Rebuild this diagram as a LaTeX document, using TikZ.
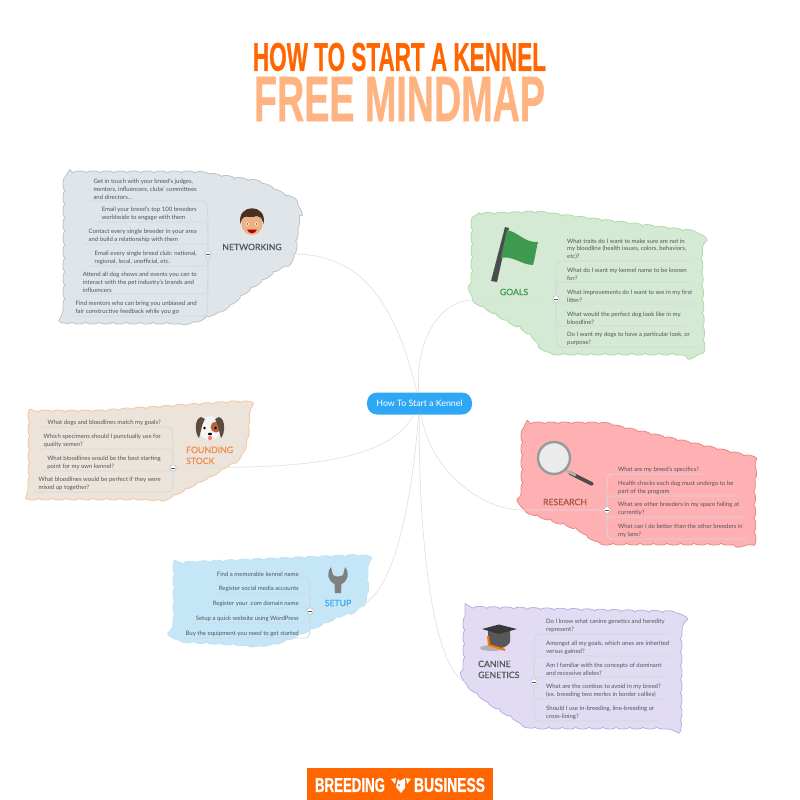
\documentclass[tikz,border=0pt]{standalone}
\usepackage{fontspec}
\usepackage{graphicx}
\setmainfont{Lato}
\newfontfamily\titlefont[FakeBold=1]{Liberation Sans Bold}
\newfontfamily\headfont[FakeBold=0.5]{Lato}
\usetikzlibrary{decorations.pathmorphing,calc}
\definecolor{txt}{HTML}{50555C}
\definecolor{branch}{HTML}{D3D8DC}
\definecolor{linkc}{HTML}{DEE2E5}
\definecolor{nf}{HTML}{DFE5E9}\definecolor{nd}{HTML}{BAC4CA}
\definecolor{gf}{HTML}{D5EAD4}\definecolor{gd}{HTML}{ABDCA6}
\definecolor{ff}{HTML}{ECE3DB}\definecolor{fd}{HTML}{F3C7A0}
\definecolor{rf}{HTML}{FFB0B3}\definecolor{rd}{HTML}{E88A80}
\definecolor{sf}{HTML}{C4E6F7}\definecolor{sd}{HTML}{BFE3F5}
\definecolor{cf}{HTML}{E1DCF3}\definecolor{cd}{HTML}{BDADE2}
\definecolor{orangeA}{HTML}{FF6600}
\definecolor{orangeB}{HTML}{FFB380}
\definecolor{skyblue}{HTML}{2EA8F5}
\definecolor{hairc}{HTML}{4A2F20}
\definecolor{skinc}{HTML}{EEB184}
\definecolor{flagc}{HTML}{3F9A50}
\definecolor{patchc}{HTML}{B5653A}
\definecolor{earc}{HTML}{5B4A3F}
\tikzset{
  cloud blob/.style={line width=.8pt,line join=round},
  topic/.style={font=\fontsize{6}{7.6}\selectfont,text=txt,inner xsep=5pt,inner ysep=1.6pt,align=left},
  branchline/.style={draw=branch,line width=.8pt},
  link/.style={draw=linkc,line width=.7pt},
  hubdot/.style={circle,fill=white,draw=branch!80!black,line width=.4pt,minimum size=6.6pt,inner sep=0pt,
     path picture={\draw[line width=.7pt,txt] ([xshift=-1.6pt]path picture bounding box.center)--([xshift=1.6pt]path picture bounding box.center);}},
  heading/.style={font=\fontsize{8.7}{11}\headfont,inner sep=0pt,align=left},
}
\newcommand{\blob}[3]{\path[cloud blob,draw=#1,fill=#2] decorate[decoration={bumps,segment length=27pt,amplitude=2pt}] {[rounded corners=8pt] #3};}
\newcommand{\topicL}[5]{%
  \node[topic,anchor=south east] (#2) at (#3,#4) {#5};
  \draw[branchline] (#1) .. controls (#1 |- #2.south east) .. (#2.south east) -- (#2.south west);}
\newcommand{\topicR}[5]{%
  \node[topic,anchor=south west] (#2) at (#3,#4) {#5};
  \draw[branchline] (#1) .. controls (#1 |- #2.south west) .. (#2.south west) -- (#2.south east);}
\begin{document}
\begin{tikzpicture}[x=1pt,y=-1pt]
\useasboundingbox (0,0) rectangle (800,800);
% blobs
\blob{nd}{nf}{(65,173)--(197,173)--(257,182)--(296,201)--(298,215)--(294,257)--(247,290)--(227,307)--(193,322)--(65,322)--cycle}
\blob{gd}{gf}{(473,215)--(537,213)--(700,233)--(703,353)--(550,353)--(530,333)--(473,300)--cycle}
\blob{fd}{ff}{(30,412)--(97,412)--(247,402)--(248,427)--(243,453)--(220,470)--(167,498)--(30,498)--cycle}
\blob{rd}{rf}{(523,424)--(603,424)--(753,458)--(754,543)--(603,543)--(577,528)--(523,510)--cycle}
\blob{sd}{sf}{(175,564)--(365,556)--(367,590)--(362,605)--(285,640)--(262,645)--(175,640)--cycle}
\blob{cd}{cf}{(465,608)--(680,613)--(680,727)--(530,727)--(493,705)--(465,683)--cycle}
% title
\node[inner sep=0pt] (title1) at (399.5,57) {\textcolor{orangeA}{\resizebox{293pt}{28pt}{\titlefont HOW TO START A KENNEL}}};
\node[inner sep=0pt] (title2) at (399.5,99) {\textcolor{orangeB}{\resizebox{291pt}{44pt}{\titlefont FREE MINDMAP}}};
% centre and hubs
\node[fill=skyblue,rounded corners=10pt,minimum width=105pt,minimum height=22pt,inner sep=0pt,text=white,font=\fontsize{8.8}{10}\selectfont] (center) at (419.5,403.5) {How To Start a Kennel};
\node[hubdot] (hN) at (208,254) {};
\node[hubdot] (hG) at (556,299) {};
\node[hubdot] (hF) at (173,468) {};
\node[hubdot] (hR) at (607,510) {};
\node[hubdot] (hS) at (310,611) {};
\node[hubdot] (hC) at (534,682) {};
% links
\draw[link] (center) .. controls (395,300) and (360,255) .. (295,254) -- (hN);
\draw[link] (center) .. controls (415,340) and (440,300) .. (473,300) -- (hG);
\draw[link] (center) .. controls (395,450) and (340,465) .. (245,467) -- (hF);
\draw[link] (center) .. controls (430,470) and (480,510) .. (523,510) -- (hR);
\draw[link] (center) .. controls (412,500) and (395,590) .. (362,605) -- (hS);
\draw[link] (center) .. controls (418,520) and (430,665) .. (465,682) -- (hC);
% networking
\topicL{hN}{n1}{202}{201}{Get in touch with your breed's judges,\\mentors, influencers, clubs' committees\\and directors...}
\topicL{hN}{n2}{202}{222}{Email your breed's top 100 breeders\\worldwide to engage with them}
\topicL{hN}{n3}{202}{244}{Contact every single breeder in your area\\and build a relationship with them}
\topicL{hN}{n4}{202}{266}{Email every single breed club: national,\\regional, local, unofficial, etc.}
\topicL{hN}{n5}{202}{294}{Attend all dog shows and events you can to\\interact with the pet industry's brands and\\influencers}
\topicL{hN}{n6}{202}{316}{Find mentors who can bring you unbiased and\\fair constructive feedback while you go}
% goals
\topicR{hG}{g1}{562}{261}{What traits do I want to make sure are not in\\my bloodline (health issues, colors, behaviors,\\etc)?}
\topicR{hG}{g2}{562}{282}{What do I want my kennel name to be known\\for?}
\topicR{hG}{g3}{562}{304}{What improvements do I want to see in my first\\litter?}
\topicR{hG}{g4}{562}{326}{What would the perfect dog look like in my\\bloodline?}
\topicR{hG}{g5}{562}{347}{Do I want my dogs to have a particular look, or\\purpose?}
% founding
\topicL{hF}{f1}{166}{427}{What dogs and bloodlines match my goals?}
\topicL{hF}{f2}{166}{449}{Which specimens should I punctually use for\\quality semen?}
\topicL{hF}{f3}{166}{471}{What bloodlines would be the best starting\\point for my own kennel?}
\topicL{hF}{f4}{166}{492}{What bloodlines would be perfect if they were\\mixed up together?}
% research
\topicR{hR}{r1}{613}{474}{What are my breed's specifics?}
\topicR{hR}{r2}{613}{496}{Health checks each dog must undergo to be\\part of the program}
\topicR{hR}{r3}{613}{517}{What are other breeders in my space failing at\\currently?}
\topicR{hR}{r4}{613}{539}{What can I do better than the other breeders in\\my lane?}
% setup
\topicL{hS}{s1}{304}{578}{Find a memorable kennel name}
\topicL{hS}{s2}{304}{593}{Register social media accounts}
\topicL{hS}{s3}{304}{608}{Register your .com domain name}
\topicL{hS}{s4}{304}{623}{Setup a quick website using WordPress}
\topicL{hS}{s5}{304}{638}{Buy the equipment you need to get started}
% canine
\topicR{hC}{c1}{541}{634}{Do I know what canine genetics and heredity\\represent?}
\topicR{hC}{c2}{541}{656}{Amongst all my goals, which ones are inherited\\versus gained?}
\topicR{hC}{c3}{541}{677}{Am I familiar with the concepts of dominant\\and recessive alleles?}
\topicR{hC}{c4}{541}{699}{What are the combos to avoid in my breed?\\(ex. breeding two merles in border collies)}
\topicR{hC}{c5}{541}{721}{Should I use in-breeding, line-breeding or\\cross-lining?}
% headings
\node[heading,text={rgb,255:red,74;green,88;blue,100}] (tN) at (252,247) {NETWORKING};
\node[heading,text=flagc] (tG) at (514,292) {GOALS};
\node[heading,text={rgb,255:red,240;green,138;blue,75},anchor=north west] (tF) at (186,446.5) {FOUNDING\\STOCK};
\node[heading,text={rgb,255:red,168;green,84;blue,63}] (tR) at (565,502) {RESEARCH};
\node[heading,text={rgb,255:red,51;green,170;blue,240}] (tS) at (338,603) {SETUP};
\node[heading,text={rgb,255:red,85;green,85;blue,90},anchor=north west] (tC) at (478,660.5) {CANINE\\GENETICS};
% face icon
\fill[skinc] (252,224) ellipse (10.5 and 11);
\fill[hairc] (240.5,224) .. controls (236,203) and (268,203) .. (263.5,224) .. controls (262,218) and (260,216) .. (257,216) .. controls (252,218) and (247,216) .. (244,217) .. controls (242,218) and (241,221) .. (240.5,224) -- cycle;
\fill[white] (247.5,224) circle (1.8) (256.5,224) circle (1.8);
\fill[black!70] (247.5,224) circle (.9) (256.5,224) circle (.9);
\fill[red!70!black] (247,229.5) .. controls (249,234.5) and (255,234.5) .. (257,229.5) -- cycle;
% flag icon
\fill[black!70] (505,227) -- (509,228) -- (497,282) -- (491,281) -- cycle;
\fill[flagc] (507,230) .. controls (518,232) and (525,243) .. (538,242) .. controls (536,250) and (535,258) .. (533,265) .. controls (522,265) and (512,255) .. (501,258) -- cycle;
% dog icon
\fill[black!4] (210,428) ellipse (11 and 12);
\fill[patchc] (216,427) circle (5.5);
\fill[earc] (201,417) .. controls (194,419) and (195,434) .. (199,438) .. controls (201,432) and (201,426) .. (205,419) -- cycle;
\fill[earc] (219,417) .. controls (226,419) and (225,434) .. (221,438) .. controls (219,432) and (219,426) .. (215,419) -- cycle;
\fill[black] (204.5,428) circle (1.3) (215.5,428) circle (1.3);
\fill[black] (210,434) ellipse (2 and 1.3);
\fill[red!55!white] (210,438) ellipse (2 and 2.2);
% magnifier icon
\draw[line width=3.6pt,black!70,line cap=round] (570,473) -- (592,484);
\draw[line width=2.6pt,black!30,line cap=round] (567,471) -- (575,475);
\fill[black!8] (554,458) circle (16);
\draw[black!40,line width=2.4pt] (554,458) circle (16);
% wrench icon
\fill[black!50] (331,567) .. controls (326,573) and (328,581) .. (334.5,584) -- (335,593) -- (341,593) -- (341.5,584) .. controls (348,581) and (350,573) .. (345,567) -- (343,575) .. controls (340,577) and (336,577) .. (333,575) -- cycle;
% cap icon
\fill[black!30] (492,648) ellipse (12 and 3);
\fill[black!65] (488,630) -- (488,642) .. controls (492,650) and (506,650) .. (510,642) -- (510,630) -- cycle;
\fill[black!78] (482,629) -- (499,624.5) -- (517,629) -- (499,634) -- cycle;
\draw[orange!90!red,line width=2pt] (488,636) -- (489,645) -- (505,650);
% logo
\fill[orangeA] (307,768) rectangle (493,800);
\node[inner sep=0pt] (lA) at (350,785) {\textcolor{white}{\resizebox{70pt}{14pt}{\titlefont BREEDING}}};
\node[inner sep=0pt] (lB) at (449.5,785) {\textcolor{white}{\resizebox{71pt}{14pt}{\titlefont BUSINESS}}};
\fill[white] (391,779) -- (396,778) -- (395,784) -- cycle;
\fill[white] (411,779) -- (406,778) -- (407,784) -- cycle;
\fill[white] (398,779) -- (400,781) -- (405,778) -- (405,788) -- (401,793) -- (396,787) -- cycle;
\fill[orangeA] (399,785) circle (1.2);
\end{tikzpicture}
\end{document}
